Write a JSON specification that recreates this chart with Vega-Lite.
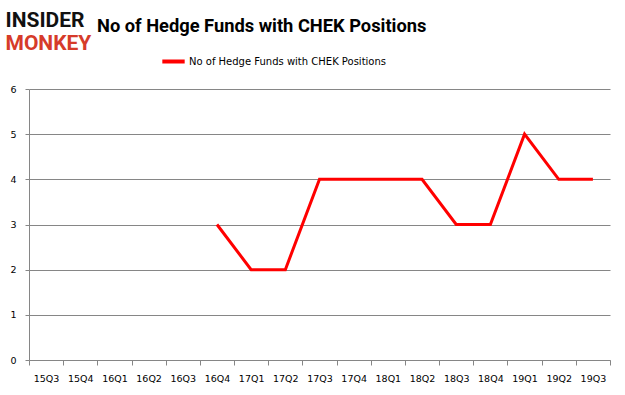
{
  "$schema": "https://vega.github.io/schema/vega-lite/v6.json",
  "autosize": {"type": "none"},
  "width": 581,
  "height": 271,
  "padding": {"left": 29, "top": 89, "right": 15, "bottom": 35},
  "background": "white",
  "title": {
    "text": "No of Hedge Funds with CHEK Positions",
    "anchor": "start",
    "frame": "group",
    "dx": 68,
    "offset": -41,
    "baseline": "alphabetic",
    "font": "Roboto",
    "fontSize": 18.3,
    "fontWeight": "bold",
    "color": "#000000"
  },
  "data": {
    "values": [
      {"quarter": "16Q4", "funds": 3, "series": "No of Hedge Funds with CHEK Positions"},
      {"quarter": "17Q1", "funds": 2, "series": "No of Hedge Funds with CHEK Positions"},
      {"quarter": "17Q2", "funds": 2, "series": "No of Hedge Funds with CHEK Positions"},
      {"quarter": "17Q3", "funds": 4, "series": "No of Hedge Funds with CHEK Positions"},
      {"quarter": "17Q4", "funds": 4, "series": "No of Hedge Funds with CHEK Positions"},
      {"quarter": "18Q1", "funds": 4, "series": "No of Hedge Funds with CHEK Positions"},
      {"quarter": "18Q2", "funds": 4, "series": "No of Hedge Funds with CHEK Positions"},
      {"quarter": "18Q3", "funds": 3, "series": "No of Hedge Funds with CHEK Positions"},
      {"quarter": "18Q4", "funds": 3, "series": "No of Hedge Funds with CHEK Positions"},
      {"quarter": "19Q1", "funds": 5, "series": "No of Hedge Funds with CHEK Positions"},
      {"quarter": "19Q2", "funds": 4, "series": "No of Hedge Funds with CHEK Positions"},
      {"quarter": "19Q3", "funds": 4, "series": "No of Hedge Funds with CHEK Positions"}
    ]
  },
  "mark": {"type": "line", "strokeWidth": 3},
  "encoding": {
    "x": {
      "field": "quarter",
      "type": "ordinal",
      "scale": {
        "type": "band",
        "domain": ["15Q3","15Q4","16Q1","16Q2","16Q3","16Q4","17Q1","17Q2","17Q3","17Q4","18Q1","18Q2","18Q3","18Q4","19Q1","19Q2","19Q3"],
        "paddingInner": 0,
        "paddingOuter": 0
      },
      "axis": {
        "title": "MONKEY",
        "titleX": -24,
        "titleY": -311,
        "titleAlign": "left",
        "titleBaseline": "alphabetic",
        "titleFont": "Roboto",
        "titleFontSize": 21,
        "titleFontWeight": "bold",
        "titleColor": "#D63B2A",
        "labelAngle": 0,
        "labelFont": "DejaVu Sans",
        "labelFontSize": 9.5,
        "labelColor": "#000000",
        "labelPadding": 8,
        "tickBand": "extent",
        "tickSize": 5,
        "tickColor": "#868686",
        "domainColor": "#868686",
        "grid": false
      }
    },
    "y": {
      "field": "funds",
      "type": "quantitative",
      "scale": {"domain": [0, 6], "nice": false},
      "axis": {
        "title": "INSIDER",
        "titleAngle": 0,
        "titleX": -24,
        "titleY": -63,
        "titleAlign": "left",
        "titleBaseline": "alphabetic",
        "titleFont": "Roboto",
        "titleFontSize": 21,
        "titleFontWeight": "bold",
        "titleColor": "#111111",
        "values": [0, 1, 2, 3, 4, 5, 6],
        "labelFont": "DejaVu Sans",
        "labelFontSize": 9.5,
        "labelColor": "#000000",
        "labelPadding": 9,
        "tickSize": 4,
        "tickColor": "#868686",
        "domainColor": "#868686",
        "grid": true,
        "gridColor": "#868686",
        "gridWidth": 1
      }
    },
    "color": {
      "field": "series",
      "type": "nominal",
      "scale": {"range": ["#FF0000"]},
      "legend": {
        "title": null,
        "orient": "none",
        "legendX": 131,
        "legendY": -41,
        "symbolType": "stroke",
        "symbolStrokeWidth": 4,
        "symbolSize": 500,
        "labelFont": "DejaVu Sans",
        "labelFontSize": 10,
        "labelColor": "#000000",
        "labelOffset": 2,
        "labelLimit": 400
      }
    }
  },
  "config": {
    "view": {"stroke": null}
  }
}
